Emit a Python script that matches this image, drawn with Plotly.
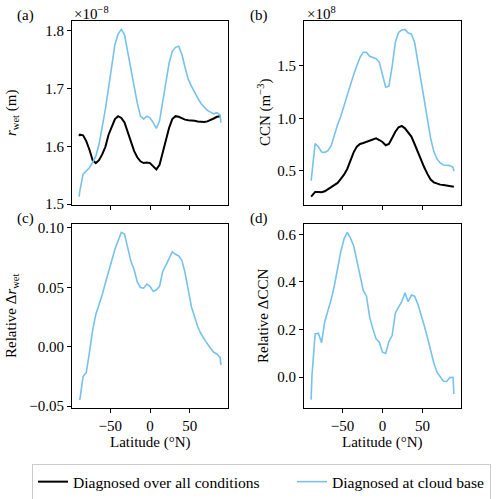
import plotly.graph_objects as go

# Latitude grid (degrees N)
LAT = [-89, -88, -84, -80, -76, -72, -68, -64, -60, -56, -52, -48, -44, -40, -36, -32,
       -28, -24, -20, -16, -12, -8, -4, 0, 4, 8, 12, 16, 20, 24, 28, 32, 36, 40, 44,
       48, 52, 56, 60, 64, 68, 72, 76, 80, 84, 88, 89]

# (a) r_wet in units of 1e-8 m
RWET_ALL = [1.618, 1.620, 1.619, 1.609, 1.594, 1.576, 1.571, 1.576, 1.586, 1.599, 1.620,
            1.633, 1.647, 1.652, 1.649, 1.641, 1.625, 1.608, 1.592, 1.581, 1.574, 1.571,
            1.572, 1.571, 1.566, 1.560, 1.568, 1.589, 1.610, 1.632, 1.647, 1.652, 1.651,
            1.648, 1.646, 1.645, 1.645, 1.644, 1.643, 1.642, 1.642, 1.643, 1.645, 1.648,
            1.651, 1.652, 1.652]
RWET_CB = [1.513, 1.523, 1.552, 1.558, 1.563, 1.572, 1.583, 1.603, 1.632, 1.664, 1.701,
           1.741, 1.776, 1.794, 1.802, 1.793, 1.764, 1.733, 1.701, 1.675, 1.652, 1.647,
           1.652, 1.649, 1.641, 1.631, 1.644, 1.678, 1.710, 1.744, 1.764, 1.771, 1.773,
           1.759, 1.736, 1.716, 1.704, 1.693, 1.683, 1.674, 1.667, 1.662, 1.659, 1.656,
           1.658, 1.654, 1.641]

# (b) CCN in units of 1e8 m^-3
CCN_ALL = [0.256, 0.266, 0.301, 0.301, 0.297, 0.307, 0.326, 0.342, 0.361, 0.386, 0.424,
           0.465, 0.519, 0.598, 0.677, 0.731, 0.756, 0.766, 0.778, 0.788, 0.801, 0.810,
           0.794, 0.775, 0.744, 0.756, 0.813, 0.873, 0.915, 0.927, 0.905, 0.867, 0.826,
           0.756, 0.677, 0.598, 0.535, 0.472, 0.418, 0.392, 0.377, 0.370, 0.367, 0.361,
           0.358, 0.354, 0.351]
CCN_CB = [0.408, 0.472, 0.760, 0.731, 0.680, 0.677, 0.693, 0.740, 0.845, 0.940, 1.019,
          1.120, 1.222, 1.326, 1.415, 1.500, 1.579, 1.627, 1.627, 1.589, 1.576, 1.566,
          1.532, 1.421, 1.295, 1.305, 1.491, 1.722, 1.816, 1.839, 1.845, 1.810, 1.801,
          1.722, 1.532, 1.342, 1.152, 0.994, 0.813, 0.684, 0.614, 0.576, 0.557, 0.554,
          0.551, 0.535, 0.497]

# (c) relative change in r_wet
REL_RWET = [-0.0437, -0.0446, -0.0252, -0.0218, -0.0047, 0.0138, 0.0271, 0.0351, 0.0437,
            0.0536, 0.0636, 0.0721, 0.0821, 0.0892, 0.0963, 0.0949, 0.0821, 0.0721, 0.0650,
            0.0545, 0.0499, 0.0493, 0.0528, 0.0508, 0.0465, 0.0479, 0.0508, 0.0636, 0.0687,
            0.0750, 0.0798, 0.0778, 0.0764, 0.0727, 0.0622, 0.0479, 0.0337, 0.0252, 0.0166,
            0.0109, 0.0061, 0.0024, -0.0013, -0.0047, -0.0061, -0.0090, -0.0155]

# (d) relative change in CCN
REL_CCN = [-0.094, 0.005, 0.182, 0.185, 0.145, 0.234, 0.280, 0.326, 0.385, 0.462, 0.527,
           0.580, 0.608, 0.585, 0.552, 0.490, 0.420, 0.364, 0.340, 0.252, 0.203, 0.161,
           0.147, 0.105, 0.100, 0.150, 0.175, 0.269, 0.294, 0.317, 0.354, 0.317, 0.345,
           0.340, 0.308, 0.266, 0.217, 0.168, 0.112, 0.060, 0.021, 0.004, -0.017, -0.018,
           -0.001, 0.000, -0.070]

LEGEND_NAMES = ["Diagnosed over all conditions", "Diagnosed at cloud base"]
BLACK = "#000000"
BLUE = "#77c2ec"
FONT = "Liberation Serif"
FS = 15

W, H = 500, 499


def rng(*series, pad=0.05):
    lo = min(min(s) for s in series)
    hi = max(max(s) for s in series)
    d = (hi - lo) * pad
    return [lo - d, hi + d]


xr = rng(LAT)
GAP = "\u00a0" * 7  # spacing between legend entries

fig = go.Figure()

# Panel (a)
fig.add_trace(go.Scatter(x=LAT, y=RWET_ALL, mode="lines", line=dict(color=BLACK, width=2),
                         name=LEGEND_NAMES[0] + GAP, xaxis="x", yaxis="y"))
fig.add_trace(go.Scatter(x=LAT, y=RWET_CB, mode="lines", line=dict(color=BLUE, width=1.6),
                         name=LEGEND_NAMES[1], xaxis="x", yaxis="y"))
# Panel (b)
fig.add_trace(go.Scatter(x=LAT, y=CCN_ALL, mode="lines", line=dict(color=BLACK, width=2),
                         showlegend=False, xaxis="x2", yaxis="y2"))
fig.add_trace(go.Scatter(x=LAT, y=CCN_CB, mode="lines", line=dict(color=BLUE, width=1.6),
                         showlegend=False, xaxis="x2", yaxis="y2"))
# Panel (c)
fig.add_trace(go.Scatter(x=LAT, y=REL_RWET, mode="lines", line=dict(color=BLUE, width=1.6),
                         showlegend=False, xaxis="x3", yaxis="y3"))
# Panel (d)
fig.add_trace(go.Scatter(x=LAT, y=REL_CCN, mode="lines", line=dict(color=BLUE, width=1.6),
                         showlegend=False, xaxis="x4", yaxis="y4"))


def px_dom(a, b):
    return [a / W, b / W]


def py_dom(top, bottom):
    return [1 - bottom / H, 1 - top / H]


common = dict(showgrid=False, zeroline=False, showline=True, mirror=True, linecolor="black",
              linewidth=1, ticks="outside", ticklen=4, tickwidth=1, tickcolor="black",
              tickfont=dict(family=FONT, size=FS, color="black"))

xt = dict(tickmode="array", tickvals=[-50, 0, 50], ticktext=["\u221250", "0", "50"], range=xr)

fig.update_layout(
    width=W, height=H, margin=dict(l=0, r=0, t=0, b=0, autoexpand=False),
    paper_bgcolor="white", plot_bgcolor="white",
    font=dict(family=FONT, size=FS, color="black"),
    xaxis=dict(domain=px_dom(72, 228), anchor="y", showticklabels=False, **xt, **common),
    yaxis=dict(domain=py_dom(21, 205), anchor="x", range=rng(RWET_ALL, RWET_CB),
               tickmode="array", tickvals=[1.5, 1.6, 1.7, 1.8],
               ticktext=["1.5", "1.6", "1.7", "1.8"], **common),
    xaxis2=dict(domain=px_dom(304, 461), anchor="y2", showticklabels=False, **xt, **common),
    yaxis2=dict(domain=py_dom(21, 205), anchor="x2", range=rng(CCN_ALL, CCN_CB),
                tickmode="array", tickvals=[0.5, 1.0, 1.5],
                ticktext=["0.5", "1.0", "1.5"], **common),
    xaxis3=dict(domain=px_dom(72, 228), anchor="y3", **xt, **common),
    yaxis3=dict(domain=py_dom(224, 408), anchor="x3", range=rng(REL_RWET),
                tickmode="array", tickvals=[-0.05, 0.0, 0.05, 0.10],
                ticktext=["\u22120.05", "0.00", "0.05", "0.10"], **common),
    xaxis4=dict(domain=px_dom(304, 461), anchor="y4", **xt, **common),
    yaxis4=dict(domain=py_dom(224, 408), anchor="x4", range=rng(REL_CCN),
                tickmode="array", tickvals=[0.0, 0.2, 0.4, 0.6],
                ticktext=["0.0", "0.2", "0.4", "0.6"], **common),
    legend=dict(orientation="h", x=32 / W, xanchor="left", y=1 - 482 / H, yanchor="middle",
                bordercolor="#cccccc", borderwidth=1, bgcolor="white",
                font=dict(family=FONT, size=15.6, color="black")),
)


def ann(text, x, y, xanchor="center", yanchor="middle", angle=0, size=FS):
    fig.add_annotation(text=text, x=x / W, y=1 - y / H, xref="paper", yref="paper",
                       xanchor=xanchor, yanchor=yanchor, showarrow=False, textangle=angle,
                       font=dict(family=FONT, size=size, color="black"))


# panel letters
ann("(a)", 25, 15)
ann("(b)", 259, 15)
ann("(c)", 25, 218)
ann("(d)", 259, 218)
# offset text
ann("\u00d710<sup>\u22128</sup>", 72, 13, xanchor="left")
ann("\u00d710<sup>8</sup>", 305, 13, xanchor="left")
# y titles
ann("<i>r</i><sub>wet</sub> (m)", 12, 113, angle=-90)
ann("CCN (m<sup>\u22123</sup>)", 264, 113, angle=-90)
ann("Relative \u0394<i>r</i><sub>wet</sub>", 12, 316, angle=-90)
ann("Relative \u0394CCN", 263, 316, angle=-90)
# x titles
ann("Latitude (\u00b0N)", 150, 442)
ann("Latitude (\u00b0N)", 382, 442)

fig.write_html("out.html",
               config={"displayModeBar": False},
               post_script="document.body.style.margin='0px';"
                           "document.body.style.overflow='hidden';")
